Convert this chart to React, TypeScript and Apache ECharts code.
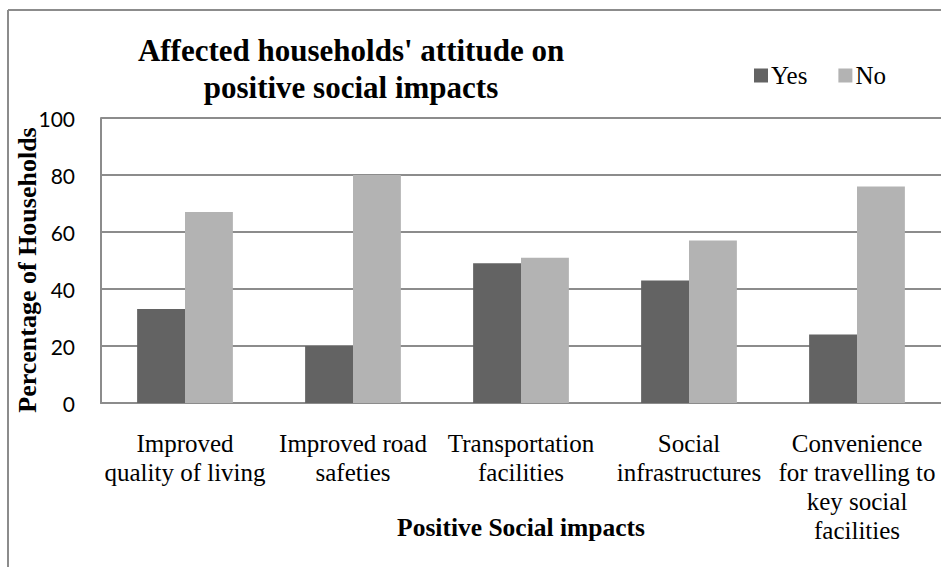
import React, { useEffect, useRef } from "react";
import * as echarts from "echarts";

// Survey answers per positive social impact (percentage of households)
const categories = [
  "Improved\nquality of living",
  "Improved road\nsafeties",
  "Transportation\nfacilities",
  "Social\ninfrastructures",
  "Convenience\nfor travelling to\nkey social\nfacilities",
];
const yesValues = [33, 20, 49, 43, 24];
const noValues = [67, 80, 51, 57, 76];
const yTicks = { min: 0, max: 100, interval: 20 };

const SERIF = "'Liberation Serif', 'Times New Roman', serif";
const SANS = "Lato, 'Noto Sans', sans-serif";
const FRAME = "#8c8c8c";

export default function App() {
  const ref = useRef<HTMLDivElement>(null);

  useEffect(() => {
    document.body.style.margin = "0";
    if (!ref.current) return;
    const chart = echarts.init(ref.current, null, { renderer: "svg" });
    chart.setOption({
      animation: false,
      backgroundColor: "#ffffff",
      title: {
        text: "Affected households' attitude on\npositive social impacts",
        left: 346,
        top: 27,
        textAlign: "center",
        textStyle: {
          fontFamily: SERIF,
          fontWeight: "bold",
          fontSize: 31,
          lineHeight: 37,
          color: "#000",
        },
      },
      legend: {
        data: ["Yes", "No"],
        left: 749,
        top: 58,
        itemWidth: 14,
        itemHeight: 14,
        itemGap: 31,
        icon: "rect",
        textStyle: {
          fontFamily: SERIF,
          fontSize: 25,
          color: "#000",
          padding: [0, 0, 0, -2],
        },
      },
      grid: {
        left: 101,
        top: 118,
        right: 0,
        bottom: 164,
        containLabel: false,
        outerBoundsMode: "none",
      },
      xAxis: {
        type: "category",
        data: categories,
        name: "Positive Social impacts",
        nameLocation: "middle",
        nameGap: 111,
        nameMoveOverlap: false,
        nameTextStyle: {
          fontFamily: SERIF,
          fontWeight: "bold",
          fontSize: 25.5,
          color: "#000",
        },
        axisLine: { lineStyle: { color: FRAME, width: 2 } },
        axisTick: { show: false },
        axisLabel: {
          interval: 0,
          margin: 26,
          fontFamily: SERIF,
          fontSize: 25,
          lineHeight: 29,
          color: "#000",
        },
      },
      yAxis: {
        type: "value",
        min: yTicks.min,
        max: yTicks.max,
        interval: yTicks.interval,
        axisLine: { show: true, lineStyle: { color: FRAME, width: 2 } },
        axisTick: { show: false },
        splitLine: { lineStyle: { color: FRAME, width: 2 } },
        axisLabel: {
          margin: 26,
          fontFamily: SANS,
          fontSize: 21,
          color: "#000",
        },
      },
      series: [
        {
          name: "Yes",
          type: "bar",
          data: yesValues,
          barGap: "0%",
          barCategoryGap: "43%",
          itemStyle: { color: "#636363" },
        },
        {
          name: "No",
          type: "bar",
          data: noValues,
          barGap: "0%",
          barCategoryGap: "43%",
          itemStyle: { color: "#b3b3b3" },
        },
      ],
      graphic: [
        {
          type: "line",
          shape: { x1: 8, y1: 10, x2: 941, y2: 10 },
          style: { stroke: FRAME, lineWidth: 2 },
        },
        {
          type: "line",
          shape: { x1: 8, y1: 10, x2: 8, y2: 567 },
          style: { stroke: FRAME, lineWidth: 2 },
        },
        {
          type: "text",
          x: 27,
          y: 270,
          rotation: Math.PI / 2,
          style: {
            text: "Percentage of Households",
            fontFamily: SERIF,
            fontWeight: "bold",
            fontSize: 26,
            fill: "#000",
            textAlign: "center",
            textVerticalAlign: "middle",
          },
        },
      ],
    });
    return () => chart.dispose();
  }, []);

  return <div ref={ref} style={{ width: 941, height: 567 }} />;
}
